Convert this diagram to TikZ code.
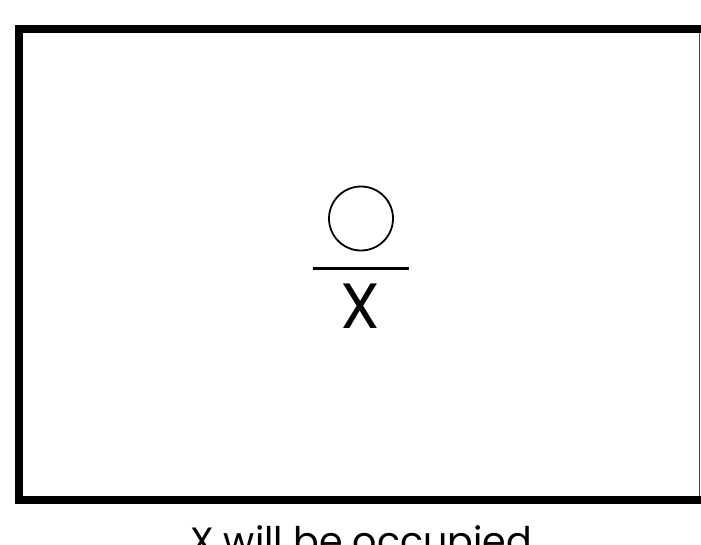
\documentclass[tikz,border=0pt]{standalone}
\usepackage{fontspec}
\setmainfont{Poppins}
\begin{document}
\begin{tikzpicture}[x=1pt,y=-1pt,
  frame/.style={line width=8pt, line cap=rect},
  thinedge/.style={line width=1.5pt, draw=black!70},
  ring/.style={circle, draw, line width=1.8pt, minimum size=64pt, inner sep=0pt},
  bar/.style={line width=3pt},
  bigtxt/.style={font=\fontsize{64}{70}\selectfont, inner sep=0pt},
  captxt/.style={font=\fontsize{38}{42}\selectfont, inner sep=0pt}]
\useasboundingbox (0,0) rectangle (701,544);
\fill[white] (0,0) rectangle (701,544);
% frame
\draw[frame] (710,29) -- (19,29) -- (19,500) -- (710,500);
\draw[thinedge] (699.5,33) -- (699.5,496);
% symbol
\node[ring] (c) at (361,218.5) {};
\coordinate (l1) at (313,268);
\coordinate (l2) at (409,268);
\draw[bar] (l1) -- (l2);
\node[bigtxt, anchor=base] (x) at (360,328) {X};
\node[captxt, anchor=base] (cap) at (361,554) {X will be occupied};
\end{tikzpicture}
\end{document}
